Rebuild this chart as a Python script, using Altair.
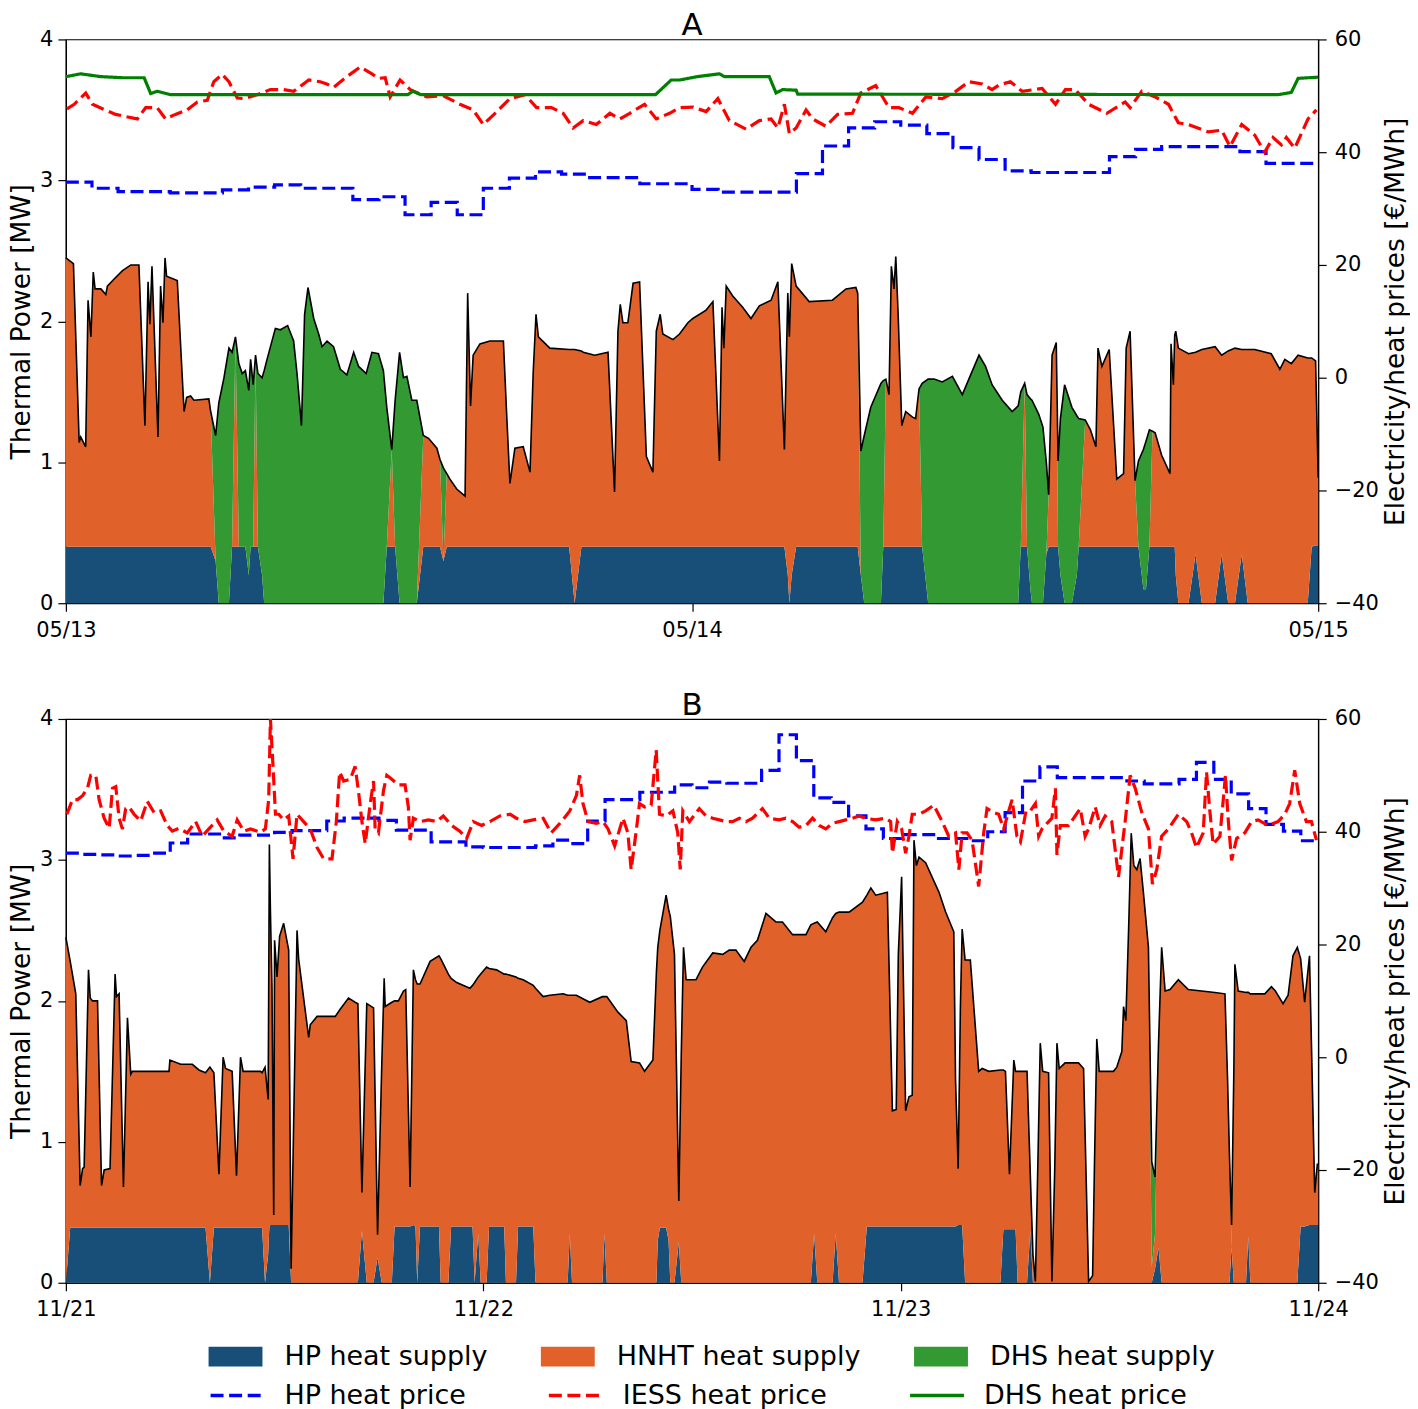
import altair as alt
import pandas as pd

# ---------------- Panel A : 05/13 - 05/15 (t = hours from 05/13 00:00) ----------------
a_t = [0.00, 0.29, 0.51, 0.57, 0.76, 0.85, 0.96, 1.05, 1.12, 1.34, 1.53, 1.59, 1.85, 2.17, 2.49, 2.80,
       3.03, 3.15, 3.22, 3.30, 3.38, 3.53, 3.63, 3.72, 3.80, 3.86, 4.27, 4.53, 4.63, 4.78, 4.91, 5.48,
       5.55, 5.74, 5.86, 6.06, 6.25, 6.37, 6.50, 6.63, 6.76, 6.88, 7.01, 7.08, 7.18, 7.27, 7.36, 7.52,
       7.60, 7.71, 8.03, 8.22, 8.50, 8.73, 8.86, 9.03, 9.15, 9.28, 9.50, 9.69, 9.82, 10.01, 10.26, 10.52,
       10.77, 11.03, 11.22, 11.51, 11.73, 11.98, 12.17, 12.30, 12.49, 12.62, 12.79, 12.94, 13.07, 13.26,
       13.45, 13.70, 13.90, 14.22, 14.34, 14.47, 14.60, 14.72, 14.98, 15.30, 15.40, 15.51, 15.61, 15.87,
       16.25, 16.77, 16.89, 17.02, 17.21, 17.53, 17.79, 17.91, 18.02, 18.11, 18.55, 19.29, 19.50, 19.76,
       19.83, 20.27, 20.78, 21.03, 21.16, 21.25, 21.35, 21.54, 21.74, 21.99, 22.25, 22.50, 22.63, 22.78,
       22.88, 23.27, 23.52, 23.84, 24.03, 24.54, 24.80, 25.05, 25.15, 25.22, 25.31, 25.56, 25.94, 26.26,
       26.58, 27.03, 27.29, 27.54, 27.67, 27.73, 27.82, 27.99, 28.49, 29.38, 29.90, 30.28, 30.35, 30.47,
       30.60, 30.85, 31.24, 31.33, 31.43, 31.55, 31.64, 31.74, 31.81, 31.90, 32.04, 32.19, 32.45, 32.57,
       32.70, 32.82, 33.05, 33.28, 33.59, 33.98, 34.36, 34.61, 35.00, 35.25, 35.50, 35.89, 36.27, 36.50,
       36.60, 36.75, 36.84, 36.97, 37.03, 37.29, 37.45, 37.58, 37.67, 37.80, 37.96, 38.03, 38.12, 38.28,
       38.56, 38.75, 38.82, 39.07, 39.27, 39.48, 39.56, 39.71, 39.99, 40.28, 40.54, 40.64, 40.79, 40.98,
       41.11, 41.30, 41.40, 41.53, 41.65, 41.75, 42.00, 42.32, 42.36, 42.45, 42.50, 42.54, 42.64, 43.03,
       43.30, 43.54, 44.05, 44.30, 44.55, 44.81, 45.07, 45.30, 45.57, 46.20, 46.53, 46.72, 46.97, 47.23,
       47.60, 47.75, 47.90, 48.00]
a_total = [2.45, 2.41, 1.14, 1.18, 1.11, 2.15, 1.89, 2.35, 2.23, 2.23, 2.19, 2.25, 2.30, 2.36, 2.40, 2.40,
           1.26, 2.28, 1.98, 2.39, 1.97, 1.18, 2.25, 1.99, 2.45, 2.32, 2.29, 1.36, 1.46, 1.47, 1.44, 1.45,
           1.36, 1.19, 1.42, 1.60, 1.81, 1.78, 1.89, 1.70, 1.63, 1.65, 1.51, 1.73, 1.55, 1.76, 1.63, 1.60,
           1.65, 1.73, 1.95, 1.94, 1.97, 1.86, 1.63, 1.26, 2.05, 2.24, 2.02, 1.91, 1.82, 1.86, 1.82, 1.66,
           1.62, 1.78, 1.68, 1.63, 1.78, 1.77, 1.65, 1.39, 1.09, 1.44, 1.78, 1.60, 1.61, 1.44,
           1.44, 1.19, 1.17, 1.10, 1.02, 0.96, 0.92, 0.88, 0.81, 0.76, 2.20, 1.40, 1.76, 1.84,
           1.86, 1.86, 1.36, 0.85, 1.10, 1.11, 0.93, 1.63, 2.05, 1.89, 1.81, 1.80, 1.80, 1.79,
           1.78, 1.76, 1.78, 0.79, 1.93, 2.12, 1.99, 1.99, 2.27, 2.28, 1.04, 0.93, 1.93, 2.05,
           1.91, 1.87, 1.91, 1.99, 2.02, 2.08, 2.14, 1.01, 2.10, 1.81, 2.25, 2.18, 2.10, 2.02,
           2.11, 2.15, 2.28, 1.09, 2.20, 1.89, 2.41, 2.25, 2.14, 2.15, 2.23, 2.24, 2.20, 1.08,
           1.19, 1.39, 1.56, 1.58, 1.59, 1.48, 2.39, 2.23, 2.46, 2.05, 1.26, 1.36, 1.32, 1.31,
           1.52, 1.56, 1.59, 1.59, 1.57, 1.61, 1.48, 1.59, 1.76, 1.68, 1.55, 1.44, 1.36, 1.40,
           1.50, 1.56, 1.48, 1.45, 1.44, 1.34, 1.25, 1.00, 0.77, 1.76, 1.85, 1.01, 1.31, 1.55,
           1.39, 1.33, 1.31, 1.30, 1.23, 1.11, 1.81, 1.68, 1.80, 0.88, 0.92, 1.81, 1.93, 0.87,
           1.01, 1.09, 1.15, 1.23, 1.22, 1.21, 1.05, 0.92, 1.84, 1.55, 1.90, 1.93, 1.81, 1.77,
           1.78, 1.80, 1.82, 1.76, 1.79, 1.81, 1.80, 1.80, 1.80, 1.77, 1.66, 1.73, 1.70, 1.76,
           1.74, 1.74, 1.72, 0.89]
a_hp = [0.40, 0.40, 0.40, 0.40, 0.40, 0.40, 0.40, 0.40, 0.40, 0.40, 0.40, 0.40, 0.40, 0.40, 0.40, 0.40,
        0.40, 0.40, 0.40, 0.40, 0.40, 0.40, 0.40, 0.40, 0.40, 0.40, 0.40, 0.40, 0.40, 0.40, 0.40, 0.40,
        0.40, 0.30, 0.00, 0.00, 0.00, 0.40, 0.40, 0.40, 0.40, 0.40, 0.20, 0.40, 0.40, 0.40, 0.40, 0.20,
        0.00, 0.00, 0.00, 0.00, 0.00, 0.00, 0.00, 0.00, 0.00, 0.00, 0.00, 0.00, 0.00, 0.00, 0.00, 0.00,
        0.00, 0.00, 0.00, 0.00, 0.00, 0.00, 0.00, 0.40, 0.40, 0.40, 0.00, 0.00, 0.00, 0.00,
        0.00, 0.40, 0.40, 0.40, 0.40, 0.30, 0.40, 0.40, 0.40, 0.40, 0.40, 0.40, 0.40, 0.40,
        0.40, 0.40, 0.40, 0.40, 0.40, 0.40, 0.40, 0.40, 0.40, 0.40, 0.40, 0.40, 0.00, 0.40,
        0.40, 0.40, 0.40, 0.40, 0.40, 0.40, 0.40, 0.40, 0.40, 0.40, 0.40, 0.40, 0.40, 0.40,
        0.40, 0.40, 0.40, 0.40, 0.40, 0.40, 0.40, 0.40, 0.40, 0.40, 0.40, 0.40, 0.40, 0.40,
        0.40, 0.40, 0.40, 0.40, 0.20, 0.00, 0.20, 0.40, 0.40, 0.40, 0.40, 0.40, 0.40, 0.20,
        0.00, 0.00, 0.00, 0.40, 0.40, 0.40, 0.40, 0.40, 0.40, 0.40, 0.40, 0.40, 0.40, 0.40,
        0.40, 0.40, 0.00, 0.00, 0.00, 0.00, 0.00, 0.00, 0.00, 0.00, 0.00, 0.00, 0.00, 0.00,
        0.40, 0.40, 0.40, 0.10, 0.00, 0.00, 0.00, 0.35, 0.40, 0.40, 0.40, 0.40, 0.20, 0.00,
        0.00, 0.20, 0.40, 0.40, 0.40, 0.40, 0.40, 0.40, 0.40, 0.40, 0.40, 0.40, 0.40, 0.40,
        0.40, 0.10, 0.10, 0.40, 0.40, 0.40, 0.40, 0.40, 0.40, 0.40, 0.40, 0.20, 0.00, 0.00,
        0.35, 0.00, 0.00, 0.35, 0.00, 0.00, 0.35, 0.00, 0.00, 0.00, 0.00, 0.00, 0.00, 0.00,
        0.00, 0.40, 0.41, 0.41]
a_dhs = [0, 0, 0, 0, 0, 0, 0, 0, 0, 0, 0, 0, 0, 0, 0, 0,
         0, 0, 0, 0, 0, 0, 0, 0, 0, 0, 0, 0, 0, 0, 0, 0,
         0, 0.89, 1.42, 1.60, 1.81, 1.38, 0, 1.30, 1.23, 1.25, 1.31, 1.33, 1.15, 0, 1.23, 1.40,
         1.65, 1.73, 1.95, 1.94, 1.97, 1.86, 1.63, 1.26, 2.05, 2.24, 2.02, 1.91, 1.82, 1.86, 1.82, 1.66,
         1.62, 1.78, 1.68, 1.63, 1.78, 1.77, 1.65, 0.99, 0, 1.04, 1.78, 1.60, 1.61, 1.44,
         1.44, 0, 0, 0, 0, 0.66, 0, 0, 0, 0, 0, 0, 0, 0,
         0, 0, 0, 0, 0, 0, 0, 0, 0, 0, 0, 0, 0, 0,
         0, 0, 0, 0, 0, 0, 0, 0, 0, 0, 0, 0, 0, 0,
         0, 0, 0, 0, 0, 0, 0, 0, 0, 0, 0, 0, 0, 0,
         0, 0, 0, 0, 0, 0, 0, 0, 0, 0, 0, 0, 0, 0.88,
         1.19, 1.39, 1.56, 1.18, 0, 0, 0, 0, 0, 0, 0, 0, 0, 0,
         0, 1.16, 1.59, 1.59, 1.57, 1.61, 1.48, 1.59, 1.76, 1.68, 1.55, 1.44, 1.36, 1.40,
         1.10, 0, 1.08, 1.35, 1.44, 1.34, 1.25, 0.65, 0, 0, 0, 0.61, 1.11, 1.55,
         1.39, 1.13, 0.91, 0, 0, 0, 0, 0, 0, 0, 0, 0, 0, 0,
         0.61, 0.99, 1.05, 0.83, 0, 0, 0, 0, 0, 0, 0, 0, 0, 0,
         0, 0, 0, 0, 0, 0, 0, 0, 0, 0, 0, 0, 0, 0,
         0, 0, 0, 0]
a_hp_price = [34.7, 33.6, 33.0, 33.0, 32.8, 32.8, 33.3, 33.8, 34.2, 33.6, 33.6, 31.6, 32.1, 28.9, 31.1, 28.9,
              33.6, 35.4, 36.5, 36.1, 35.5, 35.5, 34.4, 34.4, 33.4, 32.9, 32.9, 32.9, 36.2, 41.1, 44.3, 45.4,
              44.8, 43.3, 40.8, 38.7, 36.7, 36.4, 36.4, 36.4, 39.2, 40.5, 41.0, 41.0, 41.0, 40.1, 38.0, 38.0,
              38.0]
a_iess_t = [0.04, 0.32, 0.76, 1.02, 1.40, 1.91, 2.42, 2.74, 3.06, 3.50, 3.82, 4.20, 4.65, 5.04, 5.42, 5.67,
            5.99, 6.25, 6.57, 6.82, 7.33, 7.84, 8.35, 8.73, 9.31, 9.75, 10.00, 10.26, 10.77, 11.28, 11.73,
            11.98, 12.24, 12.43, 12.81, 13.20, 13.83, 14.47, 15.10, 15.61, 16.00, 16.45, 17.02, 17.60, 18.04,
            18.61, 19.06, 19.44, 19.83, 20.33, 20.85, 21.23, 21.61, 22.18, 22.63, 23.14, 23.52, 24.03, 24.54,
            24.99, 25.43, 26.07, 26.58, 27.03, 27.29, 27.54, 27.73, 27.99, 28.37, 28.62, 29.13, 29.58, 30.15,
            30.47, 31.04, 31.55, 31.93, 32.45, 32.96, 33.59, 34.11, 34.61, 35.12, 35.50, 35.76, 36.20, 36.65,
            37.42, 37.93, 38.31, 38.69, 39.20, 39.90, 40.60, 40.79, 41.24, 41.75, 42.26, 42.64, 43.03, 43.79,
            44.30, 44.62, 45.07, 45.57, 45.95, 46.27, 46.59, 46.78, 47.10, 47.61, 47.93]
a_iess = [47.7, 48.5, 50.5, 48.5, 47.7, 46.7, 46.2, 45.9, 47.9, 47.9, 45.9, 46.7, 47.5, 48.9, 49.2, 52.5,
          53.8, 52.5, 49.6, 49.5, 50.2, 51.1, 51.1, 50.8, 52.8, 52.5, 52.1, 51.5, 53.4, 55.1, 53.9,
          53.1, 53.2, 49.8, 52.8, 51.1, 49.8, 50.0, 48.5, 47.5, 44.9, 46.9, 49.5, 50.2, 47.9,
          47.9, 46.9, 44.3, 45.6, 44.9, 46.9, 45.9, 46.9, 48.5, 45.9, 46.9, 47.9, 48.0, 47.2,
          49.5, 45.6, 44.1, 45.6, 45.9, 44.3, 48.5, 43.3, 44.3, 47.5, 45.9, 44.6, 46.7, 46.9,
          50.5, 51.8, 47.9, 47.9, 46.9, 49.8, 49.5, 50.8, 52.5, 52.1, 51.1, 51.9, 52.5, 50.8,
          51.3, 48.5, 51.1, 51.1, 48.5, 46.9, 48.9, 47.9, 50.8, 49.8, 48.5, 45.2, 44.9, 43.6,
          43.9, 41.0, 44.9, 43.0, 40.0, 42.6, 41.3, 42.6, 40.7, 45.9, 47.5]
a_dhs_price_t = [0.0, 0.57, 1.34, 2.2, 3.0, 3.25, 3.5, 4.0, 13.1, 13.3, 13.6, 22.6, 23.2, 23.52, 24.2, 25.05,
                 25.24, 26.96, 27.22, 27.47, 27.99, 28.05, 46.47, 46.97, 47.23, 48.0]
a_dhs_price = [53.4, 53.9, 53.4, 53.2, 53.2, 50.4, 50.8, 50.2, 50.2, 50.8, 50.2, 50.2, 52.8, 52.8, 53.4, 53.9,
               53.4, 53.4, 50.5, 51.1, 51.0, 50.3, 50.2, 50.6, 53.1, 53.3]
a_ticks = [0, 24, 48]
a_tick_labels = ["05/13", "05/14", "05/15"]

# ---------------- Panel B : 11/21 - 11/24 (t = hours from 11/21 00:00) ----------------
b_t = [0.00, 0.25, 0.57, 0.82, 0.96, 1.05, 1.30, 1.40, 1.53, 1.82, 2.05, 2.20, 2.54, 2.83, 2.91, 3.06,
       3.31, 3.54, 3.73, 3.82, 5.93, 5.98, 6.60, 7.27, 7.65, 8.03, 8.28, 8.51, 8.80, 9.04, 9.18, 9.56,
       9.81, 10.04, 10.19, 11.19, 11.28, 11.45, 11.63, 11.70, 11.76, 11.85, 11.95, 12.00, 12.14, 12.29,
       12.52, 12.81, 12.95, 13.29, 13.38, 13.96, 14.05, 14.44, 15.49, 15.77, 16.25, 16.63, 16.79, 17.02,
       17.30, 17.69, 17.92, 18.16, 18.30, 18.36, 18.74, 18.90, 19.12, 19.41, 19.54, 19.79, 19.98, 20.10,
       20.20, 20.36, 20.94, 21.45, 21.55, 21.99, 22.15, 22.47, 23.23, 23.38, 23.50, 23.71, 23.85, 24.19,
       24.33, 24.76, 25.20, 25.30, 25.88, 26.00, 26.29, 26.87, 27.00, 27.44, 27.82, 28.59, 28.85, 28.97,
       29.10, 29.35, 30.12, 30.85, 30.96, 31.10, 31.74, 32.22, 32.50, 32.98, 33.27, 33.75, 33.95, 34.03,
       34.15, 34.28, 34.51, 34.65, 34.75, 34.99, 35.24, 35.38, 35.51, 35.66, 36.23, 36.60, 37.19, 37.76,
       38.14, 38.52, 39.00, 39.39, 39.76, 40.25, 40.82, 41.20, 41.78, 42.16, 42.55, 42.83, 43.02, 43.20,
       43.69, 44.08, 44.26, 44.45, 45.03, 45.80, 46.05, 46.28, 46.56, 47.23, 47.52, 47.74, 47.86, 48.05,
       48.28, 48.47, 48.66, 48.76, 48.90, 49.05, 49.43, 50.20, 50.58, 51.05, 51.15, 51.30, 51.43, 51.53,
       51.70, 52.00, 52.48, 52.68, 53.06, 53.73, 53.90, 54.02, 54.25, 54.50, 54.60, 54.72, 55.26, 55.45,
       55.60, 55.74, 55.89, 56.02, 56.16, 56.50, 56.69, 56.85, 56.98, 57.11, 57.45, 58.22, 58.51, 58.80,
       59.03, 59.14, 59.27, 59.41, 60.23, 60.42, 60.71, 60.81, 60.94, 61.10, 61.25, 61.40, 61.57, 61.76,
       61.95, 62.24, 62.43, 62.62, 62.82, 63.00, 63.20, 63.48, 63.96, 64.53, 65.30, 66.06, 66.64, 66.79,
       66.90, 67.02, 67.15, 67.21, 67.40, 67.85, 67.98, 68.10, 68.93, 69.31, 69.54, 69.98, 70.27, 70.55,
       70.80, 70.99, 71.22, 71.50, 71.80, 71.95, 72.00]
b_total = [2.45, 2.28, 2.05, 0.69, 0.81, 0.82, 2.22, 2.02, 2.00, 2.00, 0.69, 0.80, 0.81, 2.19, 2.03, 2.05,
           0.68, 1.88, 1.48, 1.50, 1.50, 1.58, 1.55, 1.55, 1.51, 1.49, 1.53, 1.49, 0.77, 1.60, 1.52, 1.50,
           0.76, 1.60, 1.50, 1.50, 1.49, 1.53, 1.30, 3.11, 2.64, 2.09, 0.48, 2.43, 2.17, 2.46,
           2.55, 2.36, 0.10, 2.50, 2.30, 1.74, 1.83, 1.89, 1.89, 1.94, 2.02, 1.99, 1.98, 0.64,
           1.98, 1.95, 0.34, 1.54, 2.16, 1.96, 1.99, 2.00, 2.00, 2.07, 2.08, 0.68, 2.22, 2.15,
           2.12, 2.12, 2.28, 2.32, 2.30, 2.19, 2.16, 2.13, 2.09, 2.11, 2.13, 2.17, 2.19, 2.24,
           2.23, 2.22, 2.19, 2.19, 2.17, 2.16, 2.15, 2.11, 2.09, 2.03, 2.04, 2.05, 2.04, 2.04,
           2.04, 2.04, 1.99, 2.03, 2.03, 2.03, 1.92, 1.86, 1.57, 1.56, 1.50, 1.58, 2.20, 2.38,
           2.50, 2.59, 2.75, 2.65, 2.60, 2.33, 0.58, 1.62, 2.38, 2.15, 2.15, 2.24, 2.34, 2.33,
           2.36, 2.36, 2.28, 2.38, 2.43, 2.62, 2.56, 2.56, 2.47, 2.47, 2.47, 2.54, 2.55, 2.56,
           2.49, 2.59, 2.62, 2.63, 2.63, 2.70, 2.75, 2.80, 2.75, 2.77, 1.22, 1.23, 2.33, 2.88,
           1.22, 1.32, 1.33, 3.14, 2.96, 3.02, 2.98, 2.77, 2.63, 2.49, 1.44, 0.81, 1.96, 2.51,
           2.29, 2.29, 1.50, 1.52, 1.50, 1.51, 1.51, 1.50, 0.77, 1.58, 1.50, 1.50, 1.50, 0.76,
           0.20, 0.01, 0.89, 1.70, 1.50, 1.49, 0.01, 0.79, 1.70, 1.52, 1.56, 1.56, 1.52, 0.01,
           0.05, 0.86, 1.73, 1.50, 1.50, 1.53, 1.64, 1.96, 1.86, 2.51, 3.19, 2.96, 2.93, 3.01,
           2.77, 2.38, 0.86, 0.75, 1.70, 2.38, 2.07, 2.08, 2.15, 2.08, 2.07, 2.06, 2.05, 1.44,
           0.90, 0.41, 1.50, 2.26, 2.07, 2.06, 2.06, 2.05, 2.05, 2.10, 2.07, 1.98, 2.04, 2.32,
           2.38, 2.30, 1.99, 2.32, 0.64, 0.84, 0.84]
b_hp = [0.00, 0.39, 0.39, 0.39, 0.39, 0.39, 0.39, 0.39, 0.39, 0.39, 0.39, 0.39, 0.39, 0.39, 0.39, 0.39,
        0.39, 0.39, 0.39, 0.39, 0.39, 0.39, 0.39, 0.39, 0.39, 0.39, 0.00, 0.39, 0.39, 0.39, 0.39, 0.39,
        0.39, 0.39, 0.39, 0.39, 0.39, 0.00, 0.20, 0.40, 0.41, 0.41, 0.41, 0.41, 0.41, 0.41,
        0.41, 0.41, 0.00, 0.00, 0.00, 0.00, 0.00, 0.00, 0.00, 0.00, 0.00, 0.00, 0.00, 0.37,
        0.00, 0.00, 0.18, 0.00, 0.00, 0.00, 0.00, 0.40, 0.40, 0.40, 0.40, 0.40, 0.41, 0.40,
        0.00, 0.40, 0.40, 0.40, 0.00, 0.00, 0.40, 0.40, 0.40, 0.40, 0.00, 0.35, 0.00, 0.00,
        0.40, 0.40, 0.40, 0.00, 0.00, 0.40, 0.40, 0.40, 0.00, 0.00, 0.00, 0.00, 0.00, 0.35,
        0.00, 0.00, 0.00, 0.00, 0.35, 0.00, 0.00, 0.00, 0.00, 0.00, 0.00, 0.00, 0.00, 0.30,
        0.39, 0.39, 0.39, 0.30, 0.00, 0.00, 0.29, 0.00, 0.00, 0.00, 0.00, 0.00, 0.00, 0.00,
        0.00, 0.00, 0.00, 0.00, 0.00, 0.00, 0.00, 0.00, 0.00, 0.00, 0.00, 0.00, 0.35, 0.00,
        0.00, 0.00, 0.35, 0.00, 0.00, 0.00, 0.40, 0.40, 0.40, 0.40, 0.40, 0.40, 0.40, 0.40,
        0.40, 0.40, 0.40, 0.40, 0.40, 0.40, 0.40, 0.40, 0.40, 0.40, 0.40, 0.41, 0.41, 0.41,
        0.00, 0.00, 0.00, 0.00, 0.00, 0.00, 0.38, 0.38, 0.38, 0.38, 0.38, 0.00, 0.00, 0.37,
        0.00, 0.00, 0.00, 0.00, 0.00, 0.00, 0.00, 0.00, 0.00, 0.00, 0.00, 0.00, 0.00, 0.00,
        0.00, 0.00, 0.00, 0.00, 0.00, 0.00, 0.00, 0.00, 0.00, 0.00, 0.00, 0.00, 0.00, 0.00,
        0.00, 0.00, 0.00, 0.10, 0.25, 0.00, 0.00, 0.00, 0.00, 0.00, 0.00, 0.00, 0.00, 0.00,
        0.00, 0.25, 0.00, 0.00, 0.00, 0.00, 0.33, 0.00, 0.00, 0.00, 0.00, 0.00, 0.00, 0.00,
        0.00, 0.40, 0.40, 0.41, 0.41, 0.41, 0.41]
# DHS supply in panel B is zero except two small slivers (t = 62.43 / 62.62 and t = 67.02)
b_dhs = [0.0] * 216 + [0.75, 0.40] + [0.0] * 11 + [0.16] + [0.0] * 19
b_hp_price = [36.2, 36.0, 35.9, 35.7, 35.8, 36.2, 38.0, 39.6, 39.6, 38.9, 39.4, 39.4, 39.9, 40.2, 40.2, 41.9,
              42.4, 42.4, 42.0, 40.3, 40.3, 38.2, 38.2, 37.3, 37.2, 37.2, 37.2, 37.5, 38.5, 37.9, 41.9, 45.7,
              45.7, 47.0, 47.0, 48.3, 47.8, 48.8, 48.6, 48.6, 50.9, 57.2, 52.6, 46.0, 45.2, 42.8, 40.5, 38.8,
              39.5, 39.5, 38.8, 38.8, 38.4, 40.0, 43.4, 49.0, 51.5, 49.6, 49.6, 49.6, 49.6, 49.0, 48.5, 48.5,
              49.3, 52.3, 49.3, 46.7, 44.1, 41.3, 40.1, 38.4, 38.4]
b_iess_t = [0.06, 0.38, 0.67, 0.96, 1.24, 1.43, 1.72, 1.91, 2.20, 2.49, 2.68, 2.87, 3.06, 3.25, 3.44, 3.63,
            3.92, 4.30, 4.68, 5.07, 5.45, 5.83, 6.12, 6.50, 6.98, 7.46, 7.84, 8.22, 8.70, 9.08, 9.56, 9.85,
            10.23, 10.61, 11.19, 11.47, 11.66, 11.76, 11.91, 12.05, 12.24, 12.52, 12.81, 13.06, 13.29, 13.67,
            14.05, 14.44, 14.82, 15.30, 15.55, 15.74, 15.97, 16.35, 16.63, 16.83, 17.02, 17.21, 17.50, 17.69,
            17.78, 17.97, 18.26, 18.45, 18.74, 19.12, 19.50, 19.69, 19.79, 19.98, 20.36, 20.84, 21.32, 21.70,
            22.18, 22.65, 23.04, 23.42, 23.90, 24.38, 24.95, 25.53, 25.90, 26.39, 26.87, 27.44, 27.90, 28.49,
            28.97, 29.35, 29.54, 29.73, 30.02, 30.50, 30.88, 31.17, 31.55, 32.03, 32.31, 32.50, 32.79, 32.98,
            33.27, 33.65, 33.94, 34.13, 34.51, 34.90, 35.18, 35.32, 35.47, 35.85, 36.42, 36.80, 37.19, 37.57,
            37.95, 38.33, 38.72, 39.10, 39.48, 40.05, 40.44, 41.01, 41.39, 41.78, 42.16, 42.55, 42.93, 43.31,
            43.69, 44.08, 44.46, 44.84, 45.22, 45.60, 45.98, 46.56, 47.13, 47.42, 47.52, 47.80, 48.05, 48.28,
            48.47, 48.66, 49.05, 49.43, 49.90, 50.38, 50.76, 51.15, 51.34, 51.53, 51.81, 52.10, 52.48, 52.77,
            52.96, 53.35, 53.63, 53.92, 54.21, 54.40, 54.68, 54.88, 55.20, 55.45, 55.74, 55.93, 56.12, 56.41,
            56.69, 56.89, 56.98, 57.17, 57.65, 58.03, 58.32, 58.60, 58.80, 59.18, 59.46, 59.75, 60.13, 60.52,
            60.90, 61.19, 61.48, 61.86, 62.24, 62.47, 62.72, 63.00, 63.39, 63.96, 64.44, 64.72, 65.00, 65.39,
            65.58, 65.77, 65.96, 66.35, 66.67, 66.82, 67.02, 67.31, 67.78, 68.17, 68.55, 69.12, 69.69, 70.08,
            70.36, 70.65, 70.94, 71.32, 71.61, 71.90]
b_iess = [43.1, 45.7, 45.7, 46.4, 47.7, 50.0, 50.0, 45.7, 42.4, 40.6, 47.7, 48.0, 42.4, 40.5, 44.1, 44.4,
          43.1, 41.9, 45.4, 43.4, 43.7, 41.1, 40.1, 40.6, 39.8, 41.8, 39.2, 40.5, 42.1, 40.1, 39.2, 42.1,
          40.1, 40.5, 39.9, 40.5, 45.7, 60.0, 51.6, 43.1, 43.1, 42.1, 42.8, 35.2, 43.1, 41.8,
          40.5, 37.2, 35.2, 35.2, 41.8, 50.6, 49.0, 49.3, 51.6, 47.0, 41.8, 37.9, 45.0, 49.0,
          40.5, 39.8, 47.3, 50.0, 49.3, 48.3, 48.3, 44.4, 38.5, 42.4, 41.8, 42.1, 41.8, 42.8,
          41.1, 40.1, 38.8, 41.8, 41.1, 41.8, 42.8, 43.1, 42.4, 41.8, 42.1, 42.4, 39.8, 41.8,
          43.7, 46.4, 50.0, 45.0, 41.8, 41.5, 41.8, 40.5, 37.5, 42.4, 39.8, 33.3, 40.1, 45.0,
          44.4, 44.7, 54.5, 43.1, 42.8, 43.7, 39.8, 33.3, 43.7, 41.8, 44.1, 42.8, 42.4, 42.1,
          41.8, 41.8, 42.4, 41.8, 42.4, 44.1, 42.4, 42.1, 42.4, 41.8, 40.8, 41.1, 42.4, 41.1,
          40.5, 41.5, 41.8, 42.1, 42.4, 42.8, 42.4, 42.1, 42.4, 41.8, 36.2, 41.8, 40.5, 36.2,
          39.2, 43.1, 43.1, 43.7, 44.7, 41.8, 39.2, 39.8, 33.3, 39.8, 39.8, 38.5, 30.3, 39.8,
          44.1, 43.4, 43.1, 40.5, 43.7, 45.7, 39.2, 38.2, 43.7, 43.7, 45.0, 39.2, 40.5, 41.5,
          42.4, 47.7, 35.9, 41.1, 41.1, 42.8, 44.1, 39.2, 40.5, 44.4, 41.1, 42.8, 41.8, 32.0,
          41.8, 50.0, 47.7, 43.4, 40.5, 30.7, 33.3, 39.2, 40.5, 43.1, 41.8, 39.8, 37.2, 39.8,
          50.6, 43.7, 37.8, 39.2, 50.0, 42.4, 34.9, 38.8, 39.8, 41.8, 42.1, 41.1, 41.8, 43.1,
          45.0, 50.9, 45.0, 41.8, 41.8, 38.5]
b_ticks = [0, 24, 48, 72]
b_tick_labels = ["11/21", "11/22", "11/23", "11/24"]

# ---------------- names / colours ----------------
supply_names = ["HP heat supply", "HNHT heat supply", "DHS heat supply"]
supply_colors = ["#174f78", "#e0622a", "#339933"]
price_names = ["HP heat price", "IESS heat price", "DHS heat price"]
price_colors = ["#0000ff", "#ff0000", "#008000"]
price_dashes = [[13, 5.6], [13, 5.6], [1, 0]]

FONT = "DejaVu Sans"


def supply_frame(t, total, hp, dhs):
    assert len(t) == len(total) == len(hp) == len(dhs), (len(t), len(total), len(hp), len(dhs))
    rows = []
    for ti, tot, h, d in zip(t, total, hp, dhs):
        hn = max(round(tot - h - d, 4), 0.0)
        for k, (name, val) in enumerate(zip(supply_names, [h, hn, d])):
            rows.append({"t": ti, "series": name, "ord": k, "v": val})
    return pd.DataFrame(rows)


fill_legend = alt.Legend(title=None, orient="none", legendX=143, legendY=1293, direction="horizontal",
                         columns=3, symbolType="M-1,-0.37H1V0.37H-1Z", symbolSize=2916,
                         symbolStrokeWidth=0, symbolOpacity=1, labelFontSize=27, labelFont=FONT,
                         labelColor="black", labelOffset=22, columnPadding=53, labelLimit=500)
line_legend = alt.Legend(title=None, orient="none", legendX=143, legendY=1330, direction="horizontal",
                         columns=3, symbolType="stroke", symbolSize=2916, symbolStrokeWidth=3.5,
                         symbolOpacity=1, labelFontSize=27, labelFont=FONT, labelColor="black",
                         labelOffset=18, columnPadding=76, labelLimit=500)


def panel(title, t, total, hp, dhs, hp_price, iess_t, iess, dhs_t, dhs_p, xmax, ticks, labels):
    expr = "[" + ",".join("'%s'" % s for s in labels) + "][round(datum.value / 24)]"
    x = alt.X("t:Q", scale=alt.Scale(domain=[0, xmax], nice=False, zero=False),
              axis=alt.Axis(values=ticks, labelExpr=expr, title=None, labelFlush=False,
                            labelOverlap=False, labelPadding=8))
    yscale = alt.Scale(domain=[0, 4], nice=False)
    yaxis = alt.Axis(values=[0, 1, 2, 3, 4], title="Thermal Power [MW]", labelFlush=False,
                     format="d", labelPadding=5, titlePadding=4)
    areas = alt.Chart(supply_frame(t, total, hp, dhs)).mark_area(
        interpolate="linear", opacity=1).encode(
        x=x,
        y=alt.Y("v:Q", stack="zero", scale=yscale, axis=yaxis),
        color=alt.Color("series:N", scale=alt.Scale(domain=supply_names, range=supply_colors),
                        legend=fill_legend),
        order=alt.Order("ord:Q", sort="ascending"),
    )
    tot = alt.Chart(pd.DataFrame({"t": t, "v": total})).mark_line(
        color="black", strokeWidth=1.6).encode(
        x=x, y=alt.Y("v:Q", stack=None, scale=yscale, axis=yaxis))

    pscale = alt.Scale(domain=[-40, 60], nice=False)
    paxis = alt.Axis(orient="right", values=[-40, -20, 0, 20, 40, 60],
                     title="Electricity/heat prices [€/MWh]", labelFlush=False,
                     titleAngle=270, titleBaseline="top", labelPadding=8, titlePadding=4)
    stroke = alt.Stroke("pseries:N", scale=alt.Scale(domain=price_names, range=price_colors),
                        legend=line_legend)
    dash = alt.StrokeDash("pseries:N", scale=alt.Scale(domain=price_names, range=price_dashes),
                          legend=line_legend)

    hp_df = pd.DataFrame({"t": list(range(len(hp_price))), "p": hp_price,
                          "pseries": price_names[0]})
    iess_df = pd.DataFrame({"t": iess_t, "p": iess, "pseries": price_names[1]})
    layers = [
        alt.Chart(hp_df).mark_line(interpolate="step-after", strokeWidth=3.2).encode(
            x=x, y=alt.Y("p:Q", scale=pscale, axis=paxis), stroke=stroke, strokeDash=dash),
        alt.Chart(iess_df).mark_line(strokeWidth=3.2).encode(
            x=x, y=alt.Y("p:Q", scale=pscale, axis=paxis), stroke=stroke, strokeDash=dash),
    ]
    if dhs_t:
        dhs_df = pd.DataFrame({"t": dhs_t, "p": dhs_p, "pseries": price_names[2]})
        layers.append(alt.Chart(dhs_df).mark_line(strokeWidth=3.2).encode(
            x=x, y=alt.Y("p:Q", scale=pscale, axis=paxis), stroke=stroke, strokeDash=dash))

    left = alt.layer(areas, tot)
    right = alt.layer(*layers)
    return alt.layer(left, right).resolve_scale(y="independent").properties(
        width=1255, height=565,
        title=alt.Title(title, fontSize=31, fontWeight="normal", font=FONT, anchor="middle",
                        color="black", offset=-14))


pA = panel("A", a_t, a_total, a_hp, a_dhs, a_hp_price, a_iess_t, a_iess, a_dhs_price_t, a_dhs_price,
           48, a_ticks, a_tick_labels)
pB = panel("B", b_t, b_total, b_hp, b_dhs, b_hp_price, b_iess_t, b_iess, [], [],
           72, b_ticks, b_tick_labels)

chart = alt.vconcat(pA, pB, spacing=48).properties(
    padding={"left": 0, "top": 0, "right": 0, "bottom": 0}
).configure(font=FONT).configure_axis(
    labelFontSize=21, titleFontSize=26.5, titleFontWeight="normal", labelColor="black",
    titleColor="black", domainColor="black", tickColor="black", tickSize=8, labelPadding=8,
    titlePadding=4, grid=False, labelFont=FONT, titleFont=FONT, domainWidth=1.2, tickWidth=1.2
).configure_view(stroke="black", strokeWidth=1.2)

chart.save("out.html", embed_options={"renderer": "svg", "actions": False})
